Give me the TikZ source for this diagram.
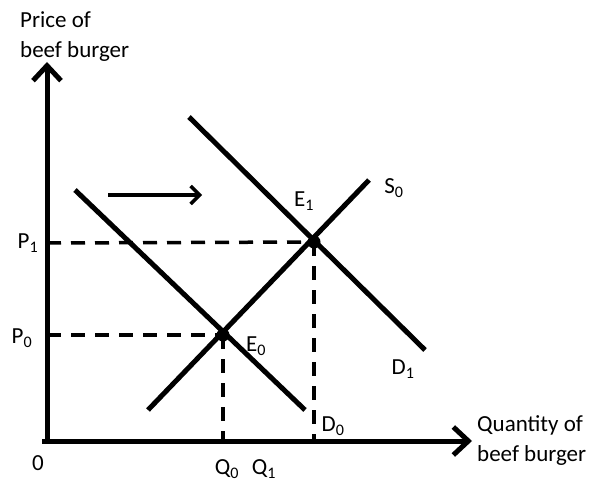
\documentclass[tikz,border=0pt]{standalone}
\usepackage{fontspec}
\setmainfont{Carlito}
\usetikzlibrary{arrows.meta}
\begin{document}
\begin{tikzpicture}[x=1pt,y=-1pt,
  curve/.style={line width=5pt},
  axis/.style={line width=5pt,-{Straight Barb[length=15pt,width=28pt,line width=5pt]}},
  guide/.style={line width=3.5pt,dash pattern=on 14pt off 10pt},
  shiftarrow/.style={line width=3.5pt,-{Straight Barb[length=9pt,width=18pt,line width=3.5pt]}},
  lbl/.style={font=\fontsize{23}{30}\selectfont,inner sep=0pt},
  dot/.style={circle,fill=black,inner sep=0pt,minimum size=13pt}]
\useasboundingbox (0,0) rectangle (593,489);
% coordinates
\coordinate (O) at (47,441);
\coordinate (ytip) at (47,62);
\coordinate (xtip) at (472,441);
\coordinate (d0a) at (75,190);
\coordinate (d0b) at (305,410);
\coordinate (d1a) at (189,117);
\coordinate (d1b) at (425,350);
\coordinate (s0a) at (148,410);
\coordinate (s0b) at (369,180);
\coordinate (p0) at (47,335);
\coordinate (p1) at (47,243);
\coordinate (q0) at (223,441);
\coordinate (q1) at (314,441);
\coordinate (sa) at (108,195);
\coordinate (sb) at (202,195);
% axes
\draw[axis] (O) -- (ytip);
\draw[axis] ([xshift=-5pt]O) -- (xtip);
% curves
\draw[curve] (d0a) -- (d0b);
\draw[curve] (d1a) -- (d1b);
\draw[curve] (s0a) -- (s0b);
\node[dot] (E0) at (223,335) {};
\node[dot] (E1) at (314,242) {};
% guides
\draw[guide] (p0) -- (E0.center);
\draw[guide] (p1) -- (E1.center);
\draw[guide] (E0.center) -- (q0);
\draw[guide] (E1.center) -- (q1);
% shift arrow
\draw[shiftarrow] (sa) -- (sb);
% labels
\node[lbl,anchor=west,align=left] (ylab) at (20,37) {Price of\\beef burger};
\node[lbl,anchor=west,align=left] (xlab) at (477,441) {Quantity of\\beef burger};
\node[lbl] (zero) at (38,463) {0};
\node[lbl] (P1) at (28,243) {P\textsubscript{1}};
\node[lbl] (P0) at (22,338) {P\textsubscript{0}};
\node[lbl] (Q0) at (227,469) {Q\textsubscript{0}};
\node[lbl] (Q1) at (264,469) {Q\textsubscript{1}};
\node[lbl] (E0l) at (256,346) {E\textsubscript{0}};
\node[lbl] (E1l) at (304,201) {E\textsubscript{1}};
\node[lbl] (S0l) at (394,188) {S\textsubscript{0}};
\node[lbl] (D1l) at (403,369) {D\textsubscript{1}};
\node[lbl] (D0l) at (333,426) {D\textsubscript{0}};
\end{tikzpicture}
\end{document}
